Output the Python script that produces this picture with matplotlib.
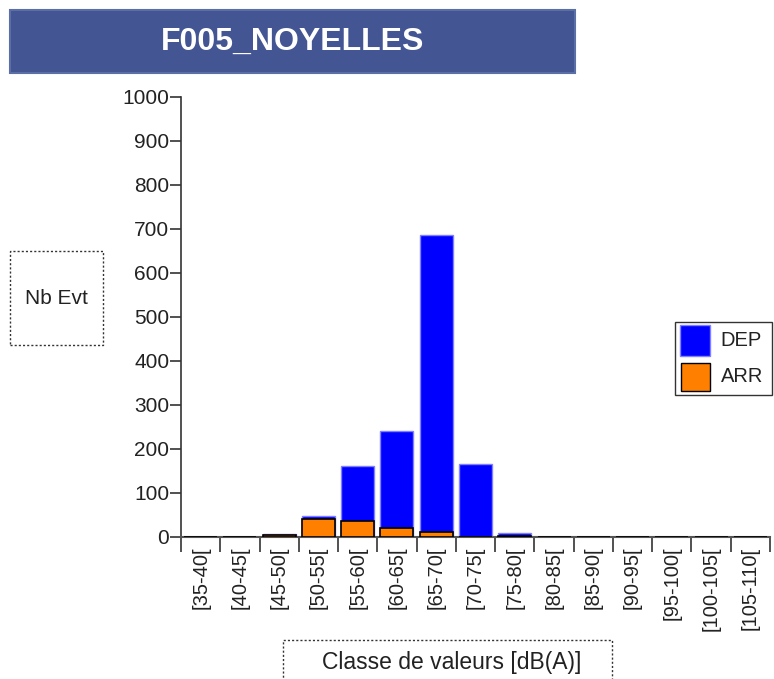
import matplotlib.pyplot as plt
import matplotlib.patches as mpatches
import numpy as np

plt.rcParams['font.family'] = ['Liberation Sans', 'DejaVu Sans']

# classes de valeurs
classes = ['[35-40[', '[40-45[', '[45-50[', '[50-55[', '[55-60[', '[60-65[',
           '[65-70[', '[70-75[', '[75-80[', '[80-85[', '[85-90[', '[90-95[',
           '[95-100[', '[100-105[', '[105-110[']
dep = [0, 0, 6, 48, 162, 242, 687, 165, 10, 0, 0, 0, 0, 0, 0]
arr = [0, 0, 5, 41, 37, 21, 12, 1, 2, 0, 0, 0, 0, 0, 0]
yticks = list(range(0, 1001, 100))

W, H = 774, 679
fig = plt.figure(figsize=(W / 100, H / 100), dpi=100)
ax = fig.add_axes([181 / W, 1 - 537 / H, (770 - 181) / W, (537 - 97) / H])

x = np.arange(len(classes)) + 0.5
bw = 0.84
ax.bar(x, dep, width=bw, color='#0000FF', edgecolor='#8080FF', linewidth=1, zorder=2)
# ARR drawn in front of DEP
ax.bar(x, arr, width=bw, color='#FF8000', edgecolor='black', linewidth=1.2, zorder=3)

ax.set_xlim(0, len(classes))
ax.set_ylim(0, 1000)
ax.set_yticks(yticks)
ax.set_yticklabels([str(v) for v in yticks], fontsize=15, color='#222222')
ax.set_xticks(np.arange(len(classes) + 1))
ax.set_xticklabels([])
ax.set_xticks(x, minor=True)
ax.set_xticklabels(classes, minor=True, rotation=90, fontsize=14.5, va='top', color='#222222')
ax.tick_params(axis='x', which='minor', length=0, pad=7)
ax.tick_params(axis='x', which='major', length=11, width=1.2, color='#333333', direction='out')
ax.tick_params(axis='y', length=8, width=1.2, color='#333333', pad=0.5)

for s in ['top', 'right']:
    ax.spines[s].set_visible(False)
ax.spines['left'].set_color('#333333')
ax.spines['left'].set_linewidth(1.2)
ax.spines['bottom'].set_color('#555555')
ax.spines['bottom'].set_linewidth(1.5)

# title banner
fig.patches.append(mpatches.Rectangle((10 / W, 1 - 73 / H), 565 / W, 63 / H,
                                      transform=fig.transFigure, facecolor='#435592',
                                      edgecolor='#5a6ea8', linewidth=1.5))
fig.text(293 / W, 1 - 42 / H, 'F005_NOYELLES', color='white', fontsize=23,
         fontweight='bold', ha='center', va='center')

# y label box
fig.patches.append(mpatches.Rectangle((10 / W, 1 - 345 / H), 93 / W, 94 / H,
                                      transform=fig.transFigure, facecolor='none',
                                      edgecolor='#333333', linestyle=(0, (1.5, 1.5)), linewidth=1))
fig.text(56 / W, 1 - 298 / H, 'Nb Evt', fontsize=15, ha='center', va='center', color='#222222')

# x label box
fig.patches.append(mpatches.Rectangle((283 / W, 1 - 690 / H), 329 / W, 50 / H,
                                      transform=fig.transFigure, facecolor='none',
                                      edgecolor='#333333', linestyle=(0, (1.5, 1.5)), linewidth=1))
fig.text(452 / W, 1 - 662 / H, 'Classe de valeurs [dB(A)]', fontsize=16.5, ha='center',
         va='center', color='#222222')

# legend
fig.patches.append(mpatches.Rectangle((675 / W, 1 - 395 / H), 97 / W, 73 / H,
                                      transform=fig.transFigure, facecolor='white',
                                      edgecolor='#333333', linewidth=1))
fig.patches.append(mpatches.Rectangle((680 / W, 1 - 356 / H), 30 / W, 31 / H,
                                      transform=fig.transFigure, facecolor='#0000FF',
                                      edgecolor='#8080FF', linewidth=1))
fig.patches.append(mpatches.Rectangle((681 / W, 1 - 391 / H), 29 / W, 28 / H,
                                      transform=fig.transFigure, facecolor='#FF8000',
                                      edgecolor='black', linewidth=1))
fig.text(720 / W, 1 - 341 / H, 'DEP', fontsize=14.5, va='center', color='#222222')
fig.text(721 / W, 1 - 377 / H, 'ARR', fontsize=14.5, va='center', color='#222222')

fig.savefig('out.png', dpi=100)
